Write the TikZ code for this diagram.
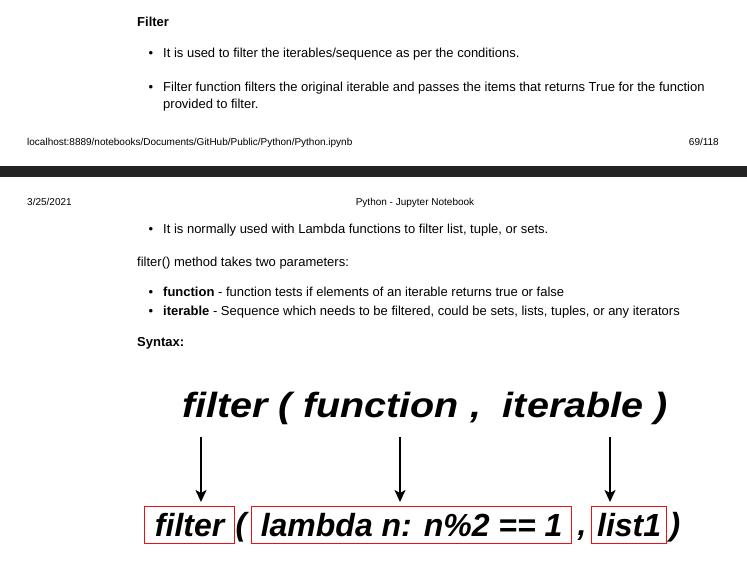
\documentclass[tikz,border=0pt]{standalone}
\usepackage{graphicx}
\usepackage{fontspec}
\setmainfont{Liberation Sans}
\usetikzlibrary{arrows.meta}
\definecolor{barcol}{HTML}{232323}
\definecolor{boxred}{HTML}{E8101A}
\begin{document}
\begin{tikzpicture}[x=1pt,y=-1pt,
  body/.style={anchor=mid west,inner sep=0pt,font=\fontsize{13}{16}\selectfont},
  heading/.style={body,font=\fontsize{13}{16}\selectfont\bfseries},
  small/.style={inner sep=0pt,font=\fontsize{10}{12}\selectfont},
  bul/.style={anchor=mid,inner sep=0pt,font=\fontsize{13}{16}\selectfont},
  big/.style={inner sep=0pt,font=\fontsize{35}{40}\selectfont\bfseries\itshape},
  midtxt/.style={inner sep=0pt,font=\fontsize{32}{36}\selectfont\bfseries\itshape},
  redbox/.style={draw=boxred,line width=1.3pt,inner sep=0pt,anchor=north west,font=\fontsize{32}{36}\selectfont\bfseries\itshape},
  arr/.style={line width=1.7pt,-{Stealth[length=12pt,width=11pt,inset=3pt]}}
]
\useasboundingbox (0,0) rectangle (747,574);
\fill[white] (0,0) rectangle (747,574);
% page 1 content
\node[heading] (h) at (137,24) {Filter};
\node[bul] (b1) at (151,55) {•};
\node[body] (t1) at (163,55) {It is used to filter the iterables/sequence as per the conditions.};
\node[bul] (b2) at (151,89) {•};
\node[body] (t2) at (163,89) {Filter function filters the original iterable and passes the items that returns True for the function};
\node[body] (t2b) at (163,106) {provided to filter.};
% footer
\node[small,anchor=mid west] (f1) at (27,143) {localhost:8889/notebooks/Documents/GitHub/Public/Python/Python.ipynb};
\node[small,anchor=mid east] (f2) at (719,143) {69/118};
% page break bar
\fill[barcol] (0,166) rectangle (747,177);
% header
\node[small,anchor=mid west] (g1) at (27,203) {3/25/2021};
\node[small,anchor=mid] (g2) at (415,203) {Python - Jupyter Notebook};
% page 2 content
\node[bul] (b3) at (151,231) {•};
\node[body] (t3) at (163,231) {It is normally used with Lambda functions to filter list, tuple, or sets.};
\node[body] (t4) at (137,264) {filter() method takes two parameters:};
\node[bul] (b4) at (151,294) {•};
\node[body] (t5) at (163,294) {\textbf{function} - function tests if elements of an iterable returns true or false};
\node[bul] (b5) at (151,313) {•};
\node[body] (t6) at (163,313) {\textbf{iterable} - Sequence which needs to be filtered, could be sets, lists, tuples, or any iterators};
\node[heading] (syn) at (137,344) {Syntax:};
% syntax figure
\node[big,anchor=base west] (top) at (182,417) {\scalebox{1.13}[1]{filter ( function ,\ \ iterable )}};
\node[redbox,minimum width=90pt,minimum height=37pt] (fb) at (144,506) {filter};
\node[redbox,minimum width=320pt,minimum height=37pt] (lb) at (251,506) {lambda n: n\%2 == 1};
\node[redbox,minimum width=75pt,minimum height=37pt] (lsb) at (591,506) {list1};
\node[midtxt,anchor=base] (p1) at (241,535) {(};
\node[midtxt,anchor=base] (cm) at (582,535) {,};
\node[midtxt,anchor=base] (p2) at (675,535) {)};
\coordinate (a1) at (201,437);
\coordinate (a2) at (400,437);
\coordinate (a3) at (610,437);
\draw[arr] (a1) -- ([yshift=4pt]a1 |- fb.north);
\draw[arr] (a2) -- ([yshift=4pt]a2 |- lb.north);
\draw[arr] (a3) -- ([yshift=4pt]a3 |- lsb.north);
\end{tikzpicture}
\end{document}
